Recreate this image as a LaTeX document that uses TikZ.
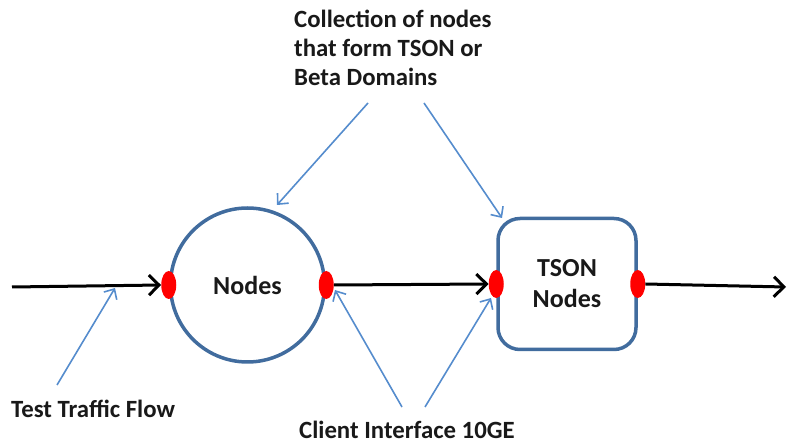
\documentclass[tikz,border=0pt]{standalone}
\usepackage{fontspec}
\setmainfont{Carlito}
\usetikzlibrary{arrows.meta,shapes.geometric}
\definecolor{ringblue}{RGB}{65,108,158}
\definecolor{pointerblue}{RGB}{85,140,205}
\definecolor{portred}{RGB}{255,0,0}
\tikzset{
  ring/.style={circle,draw=ringblue,line width=3.5pt,minimum size=154pt,inner sep=0pt},
  tsonbox/.style={draw=ringblue,line width=3.5pt,rounded corners=22pt,minimum width=138pt,minimum height=131pt,inner sep=0pt,align=center},
  port/.style={ellipse,fill=portred,draw=none,minimum width=15pt,minimum height=28pt,inner sep=0pt},
  flow/.style={black,line width=3pt,-{Straight Barb[length=10pt,width=20pt,line width=3pt]}},
  pointer/.style={pointerblue,line width=1.6pt,-{Straight Barb[length=8pt,width=15pt,line width=1.6pt]}},
  label/.style={font=\bfseries\fontsize{24.8}{29}\selectfont,inner sep=0pt,text=black!90},
  inner/.style={font=\bfseries\fontsize{26}{31}\selectfont,text=black!90}
}
\begin{document}
\begin{tikzpicture}[x=1pt,y=-1pt]
\useasboundingbox (0,0) rectangle (788,446);
% main shapes
\node[ring] (nodes) at (247.5,285) {};
\node[inner] at (nodes.center) {Nodes};
\node[tsonbox] (tson) at (567,284) {};
\node[inner,align=center] at (tson.center) {TSON\\Nodes};
% client interface ports
\node[port] (p1) at (nodes.west) {};
\node[port] (p2) at (nodes.east) {};
\node[port] (p3) at (tson.west) {};
\node[port] (p4) at (tson.east) {};
% traffic path
\coordinate (src) at (12,287);
\coordinate (sink) at (786,287);
\draw[flow] (src) -- (p1.west);
\draw[flow] (p2.east) -- (p3.west);
\draw[flow] (p4.east) -- (sink);
% labels (the base of a multi-line node is its last line)
\node[label,align=left,anchor=base west] (coll) at (294,86) {Collection of nodes\\that form TSON or\\Beta Domains};
\node[label,anchor=base west] (ttf) at (11,418) {Test Traffic Flow};
\node[label,anchor=base west] (cif) at (299,439) {Client Interface 10GE};
% pointer anchors
\coordinate (c1) at (368,103);
\coordinate (c2) at (424,103);
\coordinate (t1) at (57,385);
\coordinate (t2) at (115,288);
\coordinate (q1) at (402,407);
\coordinate (q2) at (425,407);
\coordinate (ringtop) at (277,205);
\coordinate (boxtop) at (502,218);
\coordinate (p2in) at (335,290);
\coordinate (p3in) at (491,298);
% pointers
\draw[pointer] (c1) -- (ringtop);
\draw[pointer] (c2) -- (boxtop);
\draw[pointer] (t1) -- (t2);
\draw[pointer] (q1) -- (p2in);
\draw[pointer] (q2) -- (p3in);
\end{tikzpicture}
\end{document}
